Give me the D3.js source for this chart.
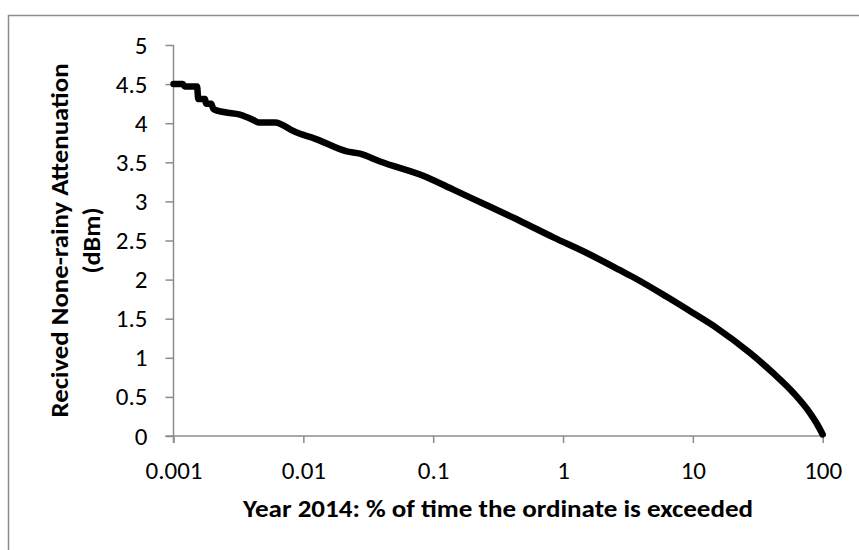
<!DOCTYPE html>
<html>
<head>
<meta charset="utf-8">
<script src="https://cdn.jsdelivr.net/npm/d3@7"></script>
<style>
  html, body { margin: 0; padding: 0; background: #fff; }
  svg { display: block; }
</style>
</head>
<body>
<svg id="chart" width="859" height="550"></svg>
<script>
// ---- data ----
const percentTime = [0.001, 0.00118, 0.00122, 0.00152, 0.00155, 0.00175, 0.00178, 0.00195, 0.00203, 0.00249,
  0.00325, 0.00424, 0.0045, 0.00605, 0.00863, 0.01, 0.01195, 0.0216, 0.0273, 0.039, 0.0893, 0.143, 0.259,
  0.467, 0.843, 1.525, 2.75, 3.48, 6.3, 10.1, 15.3, 27.6, 41.8, 59.6, 80.1, 90, 100];
const attenuation = [4.50, 4.50, 4.47, 4.47, 4.31, 4.31, 4.25, 4.25, 4.18, 4.14,
  4.11, 4.03, 4.01, 4.01, 3.89, 3.85, 3.81, 3.64, 3.61, 3.51, 3.31, 3.15, 2.95,
  2.75, 2.54, 2.34, 2.12, 2.03, 1.78, 1.57, 1.38, 1.06, 0.80, 0.55, 0.29, 0.16, 0.02];
const xTicks = [0.001, 0.01, 0.1, 1, 10, 100];
const xTickLabels = ["0.001", "0.01", "0.1", "1", "10", "100"];
const yTicks = [0, 0.5, 1, 1.5, 2, 2.5, 3, 3.5, 4, 4.5, 5];
const yTickLabels = ["0", "0.5", "1", "1.5", "2", "2.5", "3", "3.5", "4", "4.5", "5"];
const xTitle = "Year 2014: % of time the ordinate is exceeded";
const yTitleLines = ["Recived None-rainy Attenuation", "(dBm)"];

// ---- layout ----
const svg = d3.select("#chart");
const plotLeft = 173.5, plotRight = 822.7, plotTop = 45, plotBottom = 436;
const axisColor = "#8c8c8c";
const fontFam = "Carlito, Calibri, Lato, sans-serif";

svg.append("rect").attr("x", 0).attr("y", 0).attr("width", 859).attr("height", 550).attr("fill", "#fff");
svg.append("rect").attr("x", 8.5).attr("y", 15.5).attr("width", 900).attr("height", 600)
  .attr("fill", "none").attr("stroke", axisColor).attr("stroke-width", 1.5);

const x = d3.scaleLog().domain([0.001, 100]).range([plotLeft, plotRight]);
const y = d3.scaleLinear().domain([0, 5]).range([plotBottom, plotTop]);

const yAxis = d3.axisLeft(y).tickValues(yTicks).tickSize(8).tickPadding(18)
  .tickFormat((d, i) => yTickLabels[i]);
const gy = svg.append("g").attr("transform", `translate(${plotLeft},0)`).call(yAxis);

const xAxis = d3.axisBottom(x).tickValues(xTicks).tickSize(7).tickPadding(18)
  .tickFormat((d, i) => xTickLabels[i]);
const gx = svg.append("g").attr("transform", `translate(0,${plotBottom})`).call(xAxis);

[gx, gy].forEach(g => {
  g.select(".domain").attr("stroke", axisColor).attr("stroke-width", 1.5);
  g.selectAll(".tick line").attr("stroke", axisColor).attr("stroke-width", 1.5);
  g.selectAll(".tick text").attr("font-family", fontFam).attr("font-size", 25).attr("fill", "#000");
});
gy.select(".domain").attr("d", `M0,${plotTop}V${plotBottom + 7}`);
gx.select(".domain").attr("d", `M${plotLeft - 8},0H${plotRight}`);

// ---- line ----
const data = percentTime.map((p, i) => ({ p, v: attenuation[i] }));
const line = d3.line().x(d => x(d.p)).y(d => y(d.v)).curve(d3.curveMonotoneX);
svg.append("path").datum(data).attr("d", line)
  .attr("fill", "none").attr("stroke", "#000").attr("stroke-width", 6.5)
  .attr("stroke-linejoin", "round").attr("stroke-linecap", "round");

// ---- titles ----
svg.append("text").attr("x", (plotLeft + plotRight) / 2).attr("y", 517)
  .attr("text-anchor", "middle").attr("font-family", fontFam).attr("font-weight", "bold")
  .attr("font-size", 24).attr("textLength", 510).attr("lengthAdjust", "spacingAndGlyphs")
  .text(xTitle);

const cy = (plotTop + plotBottom) / 2;
svg.append("text").attr("transform", `translate(68,${cy}) rotate(-90)`)
  .attr("text-anchor", "middle").attr("font-family", fontFam).attr("font-weight", "bold")
  .attr("font-size", 24).attr("textLength", 354).attr("lengthAdjust", "spacingAndGlyphs")
  .text(yTitleLines[0]);
svg.append("text").attr("transform", `translate(100,${cy}) rotate(-90)`)
  .attr("text-anchor", "middle").attr("font-family", fontFam).attr("font-weight", "bold")
  .attr("font-size", 24).attr("textLength", 66).attr("lengthAdjust", "spacingAndGlyphs")
  .text(yTitleLines[1]);
</script>
</body>
</html>
